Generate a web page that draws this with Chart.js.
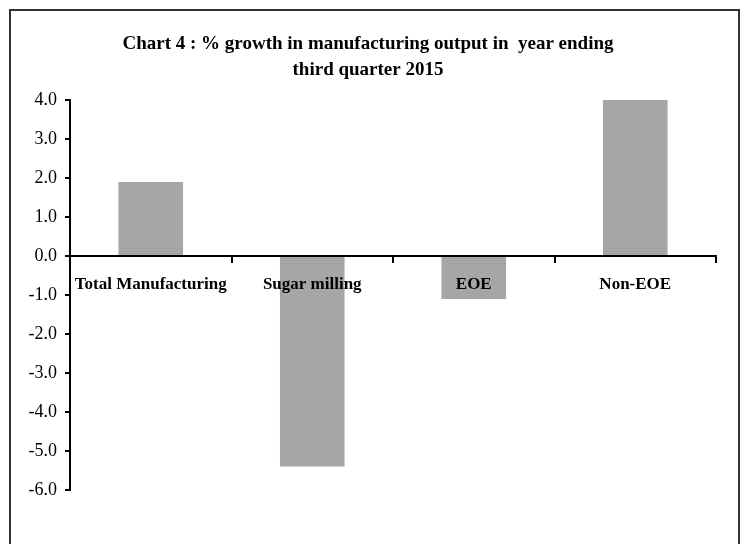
<!DOCTYPE html>
<html>
<head>
<meta charset="utf-8">
<script src="https://cdn.jsdelivr.net/npm/chart.js@4/dist/chart.umd.min.js"></script>
<style>
    html, body { margin: 0; padding: 0; background: #fff; overflow: hidden; }
    #frame { position: absolute; left: 9px; top: 9px; width: 727px; height: 600px; border: 2px solid #333; }
    #wrap { position: absolute; left: 0; top: 0; width: 744px; height: 544px; }
</style>
</head>
<body>
<div id="frame"></div>
<div id="wrap"><canvas id="growthChart" width="744" height="544"></canvas></div>
<script>
// chart values
var categories = ['Total Manufacturing', 'Sugar milling', 'EOE', 'Non-EOE'];
var growth = [1.9, -5.4, -1.1, 4.0];
var titleLines = ['Chart 4 : % growth in manufacturing output in  year ending', 'third quarter 2015'];
var yMin = -6, yMax = 4, yStep = 1;

var serif = '"Liberation Serif", "Times New Roman", serif';

var growthChart = new Chart(document.getElementById('growthChart'), {
    type: 'bar',
    data: {
        labels: categories,
        datasets: [{
            label: 'growth',
            backgroundColor: '#a6a6a6',
            borderWidth: 0,
            data: growth
        }]
    },
    options: {
        responsive: false,
        animation: false,
        layout: {
            padding: {top: 31, left: 20, right: 28, bottom: 54}
        },
        plugins: {
            legend: {display: false},
            tooltip: {enabled: false},
            title: {
                display: true,
                text: titleLines,
                color: '#000',
                font: {family: serif, size: 19, weight: 'bold', lineHeight: 1.37},
                padding: {top: 0, bottom: 17}
            }
        },
        datasets: {
            bar: {barPercentage: 0.4, categoryPercentage: 1.0}
        },
        scales: {
            x: {
                position: {y: 0},
                grid: {
                    display: true,
                    drawOnChartArea: false,
                    drawTicks: true,
                    tickLength: 6,
                    color: '#000',
                    lineWidth: 2
                },
                border: {display: true, color: '#000', width: 2, z: 1},
                ticks: {
                    z: 1, // labels sit on top of the bars
                    color: '#000',
                    padding: 12,
                    maxRotation: 0,
                    autoSkip: false,
                    font: {family: serif, size: 17, weight: 'bold'}
                }
            },
            y: {
                min: yMin,
                max: yMax,
                afterFit: function (scale) { scale.width = 50; },
                grid: {
                    display: true,
                    drawOnChartArea: false,
                    drawTicks: true,
                    tickLength: 5,
                    color: '#000',
                    lineWidth: 2
                },
                border: {display: true, color: '#000', width: 2},
                ticks: {
                    stepSize: yStep,
                    color: '#000',
                    padding: 8,
                    font: {family: serif, size: 18},
                    callback: function (v) { return Number(v).toFixed(1); }
                }
            }
        }
    }
});
</script>
</body>
</html>
